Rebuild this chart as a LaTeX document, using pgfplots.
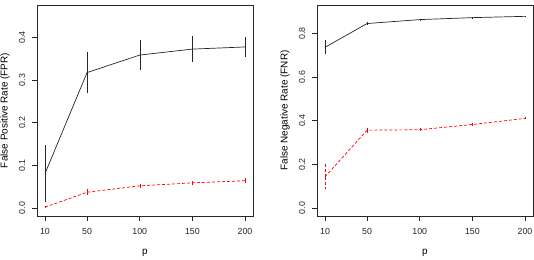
\documentclass[border=0pt]{standalone}
\usepackage{pgfplots}
\pgfplotsset{compat=1.18}
\usepackage{pgfplotstable}
\usepackage{fontspec}
\setmainfont{Liberation Sans}

\pgfplotstableread{
x y e
10 0.081 0.068
50 0.318 0.048
100 0.359 0.035
150 0.373 0.030
200 0.378 0.024
}\fprA
\pgfplotstableread{
x y e
10 0.002 0.002
50 0.037 0.008
100 0.052 0.005
150 0.059 0.005
200 0.064 0.006
}\fprB
\pgfplotstableread{
x y e
10 0.737 0.033
50 0.846 0.008
100 0.864 0.005
150 0.873 0.003
200 0.879 0.003
}\fnrA
\pgfplotstableread{
x y e
10 0.143 0.057
50 0.357 0.012
100 0.359 0.006
150 0.383 0.005
200 0.411 0.005
}\fnrB

\pgfplotsset{
  rstyle/.style={
    scale only axis, width=216bp, height=211bp,
    xmin=2.4, xmax=207.6,
    xtick={10,50,100,150,200},
    tick align=outside, xtick pos=lower, ytick pos=left,
    major tick length=5bp,
    axis line style={black!85, line width=0.7bp},
    every tick/.style={black!85, line width=0.7bp},
    /pgf/number format/assume math mode=true,
    tick label style={font=\fontsize{8.8bp}{10bp}\selectfont, text=black!85},
    label style={font=\fontsize{8.8bp}{10bp}\selectfont, text=black!85},
    xticklabel style={anchor=center, yshift=-10bp},
    yticklabel style={anchor=center, xshift=-10bp, rotate=90, /pgf/number format/.cd, fixed, fixed zerofill, precision=1},
    every axis x label/.style={at={(axis description cs:0.5,0)}, anchor=center, yshift=-37bp},
    every axis y label/.style={at={(axis description cs:0,0.5)}, anchor=center, xshift=-32bp, rotate=90},
    xlabel={p},
  },
  blk/.style={black!85, line width=0.7bp, mark=none,
    error bars/.cd, y dir=both, y explicit, error mark=none},
  rd/.style={red, line width=0.7bp, dash pattern=on 3bp off 2bp, mark=none,
    error bars/.cd, y dir=both, y explicit, error mark=none},
}

\begin{document}
\begin{tikzpicture}
\useasboundingbox (-37bp,-44bp) rectangle (497bp,216bp);
\begin{axis}[rstyle, at={(0bp,0bp)}, anchor=south west,
  ymin=-0.0188, ymax=0.4765, ytick={0,0.1,0.2,0.3,0.4},
  ylabel={False Positive Rate (FPR)}]
\addplot+[blk] table[x=x, y=y, y error=e] {\fprA};
\addplot+[rd] table[x=x, y=y, y error=e] {\fprB};
\end{axis}
\begin{axis}[rstyle, at={(280bp,0bp)}, anchor=south west,
  ymin=-0.0366, ymax=0.931, ytick={0,0.2,0.4,0.6,0.8},
  ylabel={False Negative Rate (FNR)}]
\addplot+[blk] table[x=x, y=y, y error=e] {\fnrA};
\addplot+[rd] table[x=x, y=y, y error=e] {\fnrB};
\end{axis}
\end{tikzpicture}
\end{document}
